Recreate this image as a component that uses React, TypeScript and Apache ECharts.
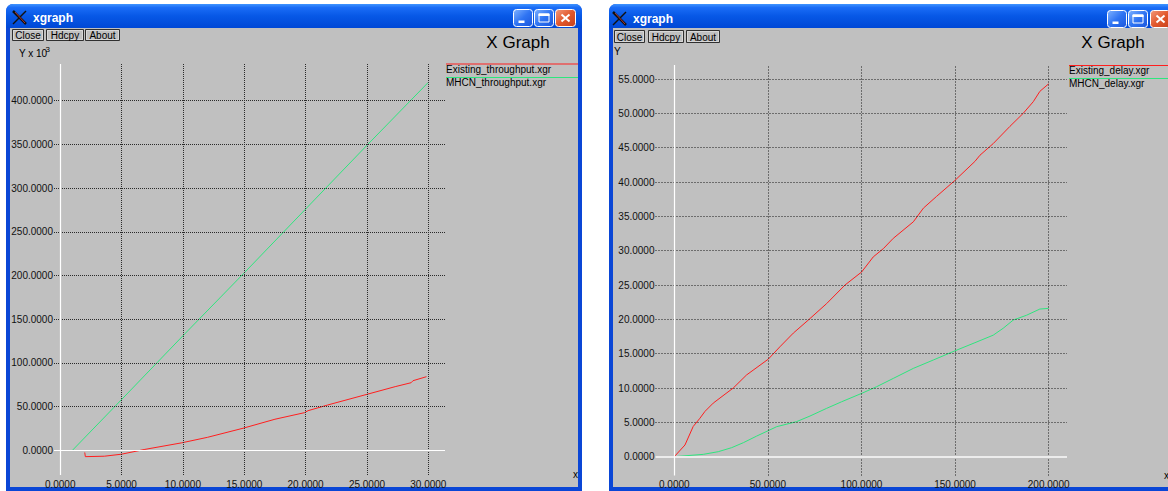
import React, { useEffect, useRef } from "react";
import * as echarts from "echarts";

const FONT = '"Liberation Sans", Arial, Helvetica, sans-serif';

// ---- tick values ----
const throughputXTicks = [0, 5, 10, 15, 20, 25, 30];
const throughputYTicks = [0, 50, 100, 150, 200, 250, 300, 350, 400];
const delayXTicks = [0, 50, 100, 150, 200];
const delayYTicks = [0, 5, 10, 15, 20, 25, 30, 35, 40, 45, 50, 55];

// ---- series (x, y) ----
const existingThroughput: number[][] = [
  [2.0, -2.5], [2.05, -7.3], [3.6, -6.8], [5.0, -4.5], [6.9, 1.0], [9.9, 8.5],
  [12.0, 14.8], [14.9, 25.2], [17.5, 35.5], [19.9, 43.0], [20.2, 45.3], [21.8, 51.8],
  [25.0, 64.0], [27.3, 72.8], [28.6, 77.3], [28.75, 79.6], [29.85, 84.2],
];
const mhcnThroughput: number[][] = [
  [1.0, 0], [5, 58], [10, 131], [15, 203], [20, 276], [25, 349], [30, 421],
];
const existingDelay: number[][] = [
  [0, 0], [5.7, 1.7], [10.1, 4.4], [13.7, 5.6], [16.4, 6.6], [20.8, 7.8], [27.1, 9.1],
  [31.5, 10.0], [38.6, 11.9], [50.2, 14.2], [56.4, 16.0], [63.6, 18.0], [71.6, 19.9],
  [81.4, 22.3], [91.2, 25.0], [100.1, 26.9], [106.3, 29.1], [111.7, 30.3], [117, 31.8],
  [127.7, 34.2], [133.1, 36.2], [140.1, 37.9], [149.8, 40.2], [160.6, 43.0], [163.3, 43.9],
  [170.4, 45.6], [179.3, 48.1], [186.4, 50.0], [191.8, 51.7], [195.3, 53.2], [200, 54.3],
];
const mhcnDelay: number[][] = [
  [0, 0], [15.5, 0.34], [23.5, 0.73], [30.6, 1.31], [36.9, 2.04], [44.0, 3.0], [50.2, 3.79],
  [54.7, 4.37], [65.3, 5.1], [72.5, 5.92], [81.4, 7.04], [89.4, 8.0], [100.1, 9.22],
  [108.1, 10.19], [117.0, 11.4], [127.7, 12.86], [138.4, 14.08], [149.8, 15.4], [160.6, 16.6],
  [170.4, 17.7], [175.7, 18.7], [181.1, 19.9], [188.2, 20.6], [195.3, 21.5], [200, 21.6],
];

const leftLegend = ["Existing_throughput.xgr", "MHCN_throughput.xgr"];
const rightLegend = ["Existing_delay.xgr", "MHCN_delay.xgr"];
const seriesColors = ["#ff1e1e", "#2ee67e"];

const fmt = (ticks: number[]) => (v: number) => {
  const r = Math.round(v * 1000) / 1000;
  return ticks.includes(r) ? r.toFixed(4) : "";
};

const gridMarkLine = (
  xt: number[], yt: number[], zeroWidthH: number, zeroColorH: string, dash: number[], color: string
) => ({
  silent: true,
  symbol: ["none", "none"],
  label: { show: false },
  emphasis: { disabled: true },
  animation: false,
  lineStyle: { color, type: dash, width: 1 },
  data: [
    ...yt.filter((t) => t !== 0).map((t) => ({ yAxis: t })),
    ...xt.filter((t) => t !== 0).map((t) => ({ xAxis: t })),
    { yAxis: 0, lineStyle: { color: zeroColorH, type: "solid", width: zeroWidthH } },
    { xAxis: 0, lineStyle: { color: "#ffffff", type: "solid", width: 1.2 } },
  ],
});

const txt = (text: string, x: number, y: number, extra: any = {}) => ({
  type: "text",
  x,
  y,
  z: 20,
  style: {
    text,
    fill: "#000",
    fontSize: 10,
    fontFamily: FONT,
    align: "left",
    verticalAlign: "middle",
    ...extra,
  },
});

const xpBtn = (x: number, y: number, w: number, h: number, kind: string) => {
  const els: any[] = [];
  const isClose = kind === "close";
  els.push({
    type: "rect",
    z: 5,
    shape: { x, y, width: w, height: h, r: 3 },
    style: {
      fill: {
        type: "linear", x: 0, y: 0, x2: 1, y2: 1,
        colorStops: isClose
          ? [{ offset: 0, color: "#f29a7c" }, { offset: 0.5, color: "#e2582c" }, { offset: 1, color: "#c6401c" }]
          : [{ offset: 0, color: "#7fb2ff" }, { offset: 0.5, color: "#2f74f3" }, { offset: 1, color: "#1b56dc" }],
      },
      stroke: "#ffffff",
      lineWidth: 1,
    },
  });
  if (kind === "min") {
    els.push({ type: "rect", z: 6, shape: { x: x + 5, y: y + h - 6, width: 6, height: 2.5 }, style: { fill: "#fff" } });
  } else if (kind === "max") {
    els.push({ type: "rect", z: 6, shape: { x: x + 4.5, y: y + 4.5, width: w - 9, height: h - 9 }, style: { fill: "none", stroke: "#fff", lineWidth: 1 } });
    els.push({ type: "rect", z: 6, shape: { x: x + 4, y: y + 4, width: w - 8, height: 2.5 }, style: { fill: "#fff" } });
  } else {
    els.push({ type: "line", z: 6, shape: { x1: x + 6, y1: y + 5, x2: x + w - 6, y2: y + h - 5 }, style: { stroke: "#fff", lineWidth: 2 } });
    els.push({ type: "line", z: 6, shape: { x1: x + w - 6, y1: y + 5, x2: x + 6, y2: y + h - 5 }, style: { stroke: "#fff", lineWidth: 2 } });
  }
  return els;
};

const xIcon = (x: number, y: number) => [
  { type: "line", z: 6, shape: { x1: x, y1: y, x2: x + 13, y2: y + 13 }, style: { stroke: "#111", lineWidth: 2.5 } },
  { type: "line", z: 6, shape: { x1: x + 13, y1: y, x2: x, y2: y + 13 }, style: { stroke: "#111", lineWidth: 1.5 } },
  { type: "line", z: 7, shape: { x1: x + 2, y1: y + 1, x2: x + 12, y2: y + 12 }, style: { stroke: "#d04040", lineWidth: 0.8 } },
];

const plainBtn = (label: string, x: number, y: number, w: number, h: number) => [
  { type: "rect", z: 5, shape: { x: x + 0.5, y: y + 0.5, width: w, height: h }, style: { fill: "#c0c0c0", stroke: "#303030", lineWidth: 1 } },
  { type: "rect", z: 5, shape: { x: x + 1.5, y: y + 1.5, width: w - 2, height: h - 2 }, style: { fill: "none", stroke: "#e8e8e8", lineWidth: 0.6 } },
  txt(label, x + w / 2 + 0.5, y + h / 2 + 1, { align: "center" }),
];

const windowFrame = (x: number, w: number) => [
  {
    type: "rect", z: -5,
    shape: { x, y: 4, width: w, height: 487, r: [7, 7, 0, 0] },
    style: { fill: "#0a46d6" },
  },
  {
    type: "rect", z: -4,
    shape: { x, y: 4, width: w, height: 24, r: [7, 7, 0, 0] },
    style: {
      fill: {
        type: "linear", x: 0, y: 0, x2: 0, y2: 1,
        colorStops: [
          { offset: 0, color: "#3f94ff" },
          { offset: 0.15, color: "#1a6cf6" },
          { offset: 0.5, color: "#0758e6" },
          { offset: 1, color: "#0048d6" },
        ],
      },
    },
  },
  {
    type: "rect", z: -3,
    shape: { x: x + 4, y: 28, width: w - 8, height: 459 },
    style: { fill: "#c0c0c0" },
  },
];

function buildGraphics() {
  const els: any[] = [];
  // left window
  els.push(...windowFrame(6, 576));
  els.push(...xIcon(13, 11));
  els.push(txt("xgraph", 33, 18, { fill: "#fff", fontWeight: "bold", fontSize: 12 }));
  els.push(...xpBtn(513.5, 9.5, 19, 17, "min"));
  els.push(...xpBtn(534.5, 9.5, 19, 17, "max"));
  els.push(...xpBtn(555.5, 9.5, 20, 17, "close"));
  els.push(...plainBtn("Close", 12, 29, 31, 11));
  els.push(...plainBtn("Hdcpy", 46, 29, 37, 11));
  els.push(...plainBtn("About", 85, 29, 34, 11));
  els.push(txt("Y x 10", 19, 53));
  els.push(txt("3", 45.5, 49.5, { fontSize: 8 }));
  els.push(txt("X Graph", 518, 42, { align: "center", fontSize: 17 }));
  els.push(txt("x", 573, 474));
  // left legend
  els.push({ type: "line", z: 8, shape: { x1: 446, y1: 64, x2: 578, y2: 64 }, style: { stroke: seriesColors[0], lineWidth: 1 } });
  els.push(txt(leftLegend[0], 446, 69.5));
  els.push({ type: "line", z: 8, shape: { x1: 446, y1: 77.5, x2: 578, y2: 77.5 }, style: { stroke: seriesColors[1], lineWidth: 1 } });
  els.push(txt(leftLegend[1], 446, 82.5));

  // right window
  els.push(...windowFrame(609, 600));
  els.push(...xIcon(613, 12));
  els.push(txt("xgraph", 633, 19, { fill: "#fff", fontWeight: "bold", fontSize: 12 }));
  els.push(...xpBtn(1107.5, 10.5, 19, 17, "min"));
  els.push(...xpBtn(1128.5, 10.5, 19, 17, "max"));
  els.push(...xpBtn(1150.5, 10.5, 20, 17, "close"));
  els.push(...plainBtn("Close", 614, 30, 30, 12));
  els.push(...plainBtn("Hdcpy", 648, 30, 35, 12));
  els.push(...plainBtn("About", 686, 30, 33, 12));
  els.push(txt("Y", 614, 51.5));
  els.push(txt("X Graph", 1113, 42.5, { align: "center", fontSize: 17 }));
  els.push(txt("x", 1164, 475));
  // right legend
  els.push({ type: "line", z: 8, shape: { x1: 1069, y1: 65.5, x2: 1168, y2: 65.5 }, style: { stroke: seriesColors[0], lineWidth: 1 } });
  els.push(txt(rightLegend[0], 1069, 70.5));
  els.push({ type: "line", z: 8, shape: { x1: 1069, y1: 78.5, x2: 1168, y2: 78.5 }, style: { stroke: seriesColors[1], lineWidth: 1 } });
  els.push(txt(rightLegend[1], 1069, 83.5));
  return els;
}

const axisBase = {
  type: "value" as const,
  axisLine: { show: false },
  axisTick: { show: false },
  splitLine: { show: false },
};

const labelBase = { fontSize: 10, fontFamily: FONT, color: "#111" };

export default function App() {
  const ref = useRef<HTMLDivElement>(null);
  useEffect(() => {
    if (!ref.current) return;
    const chart = echarts.init(ref.current, undefined, { renderer: "svg" });
    chart.setOption({
      animation: false,
      backgroundColor: "#ffffff",
      grid: [
        { left: 54, top: 64, width: 391, height: 411 },
        { left: 655.5, top: 65, width: 411.5, height: 410.5 },
      ],
      xAxis: [
        { ...axisBase, gridIndex: 0, min: -0.505, max: 31.36, splitNumber: 6,
          axisLabel: { ...labelBase, margin: 4, formatter: fmt(throughputXTicks) } },
        { ...axisBase, gridIndex: 1, min: -10.04, max: 209.8, splitNumber: 4,
          axisLabel: { ...labelBase, margin: 4, formatter: fmt(delayXTicks) } },
      ],
      yAxis: [
        { ...axisBase, gridIndex: 0, min: -28.3, max: 442, splitNumber: 9,
          axisLabel: { ...labelBase, margin: 1, formatter: fmt(throughputYTicks) } },
        { ...axisBase, gridIndex: 1, min: -2.74, max: 57.04, splitNumber: 12,
          axisLabel: { ...labelBase, margin: 1, formatter: fmt(delayYTicks) } },
      ],
      graphic: { elements: buildGraphics() },
      series: [
        { type: "line", xAxisIndex: 0, yAxisIndex: 0, data: [], z: 1, silent: true,
          markLine: gridMarkLine(throughputXTicks, throughputYTicks, 1.2, "#ffffff", [1, 1], "#2a2a2a") },
        { type: "line", xAxisIndex: 1, yAxisIndex: 1, data: [], z: 1, silent: true,
          markLine: gridMarkLine(delayXTicks, delayYTicks, 2, "#ececec", [1, 2], "#1a1a1a") },
        { name: leftLegend[0], type: "line", xAxisIndex: 0, yAxisIndex: 0, data: existingThroughput,
          showSymbol: false, color: seriesColors[0], lineStyle: { width: 1 }, z: 3 },
        { name: leftLegend[1], type: "line", xAxisIndex: 0, yAxisIndex: 0, data: mhcnThroughput,
          showSymbol: false, color: seriesColors[1], lineStyle: { width: 1 }, z: 3 },
        { name: rightLegend[0], type: "line", xAxisIndex: 1, yAxisIndex: 1, data: existingDelay,
          showSymbol: false, color: seriesColors[0], lineStyle: { width: 1 }, z: 3 },
        { name: rightLegend[1], type: "line", xAxisIndex: 1, yAxisIndex: 1, data: mhcnDelay,
          showSymbol: false, color: seriesColors[1], lineStyle: { width: 1 }, z: 3 },
      ],
    });
    return () => chart.dispose();
  }, []);
  return (
    <div
      ref={ref}
      style={{ position: "fixed", left: 0, top: 0, width: 1168, height: 491, background: "#fff" }}
    />
  );
}
